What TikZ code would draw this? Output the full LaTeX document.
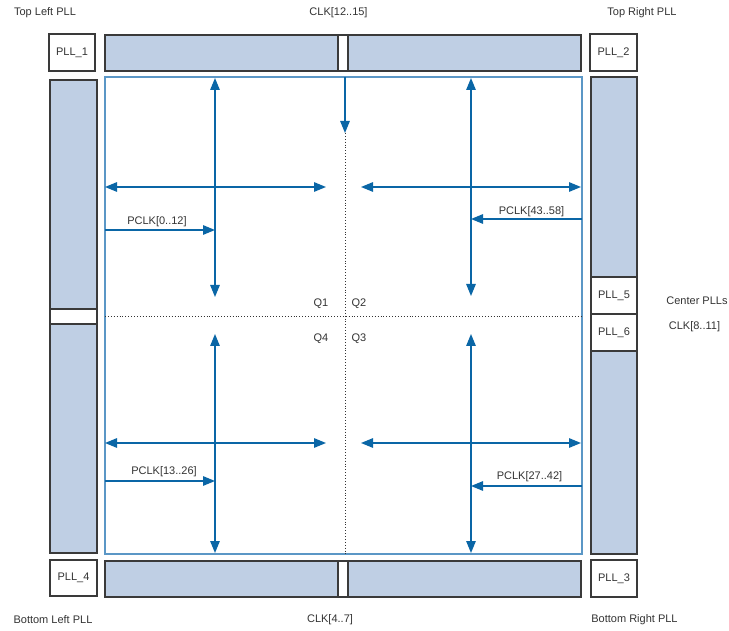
\documentclass[tikz,border=0pt]{standalone}
\usepackage{fontspec}
\setmainfont{Liberation Sans}
\usetikzlibrary{arrows.meta}
\definecolor{barfill}{HTML}{BFCFE4}
\definecolor{frameblue}{HTML}{5B97C6}
\definecolor{arrowblue}{HTML}{0A66A6}
\definecolor{txt}{HTML}{333333}
\definecolor{boxline}{HTML}{3A3A3A}
\begin{document}
\begin{tikzpicture}[x=1pt,y=-1pt,
  lbl/.style={font=\fontsize{11}{12}\selectfont, text=txt, inner sep=0pt},
  rbox/.style={draw=boxline, line width=1.2pt, rectangle, inner sep=0pt, outer sep=0pt},
  pll/.style={rbox, fill=white, font=\fontsize{11}{12}\selectfont, text=txt},
  bar/.style={rbox, fill=barfill},
  gap/.style={rbox, fill=white},
  sig/.style={draw=arrowblue, line width=1.3pt, -{Triangle[length=12pt,width=9.5pt]}},
  dsig/.style={draw=arrowblue, line width=1.3pt, {Triangle[length=12pt,width=9.5pt]}-{Triangle[length=12pt,width=9.5pt]}},
  dots/.style={draw=txt, line width=0.9pt, dotted}]
\useasboundingbox (0,0) rectangle (729,631);

% bars
\node[bar, minimum width=476pt, minimum height=36pt] (topbar) at (343,53) {};
\node[gap, minimum width=10pt, minimum height=36pt] (topgap) at (343,53) {};
\node[bar, minimum width=476pt, minimum height=36pt] (botbar) at (343,579) {};
\node[gap, minimum width=10pt, minimum height=36pt] (botgap) at (343,579) {};
\node[bar, minimum width=47pt, minimum height=473pt] (leftbar) at (73.5,316.5) {};
\node[gap, minimum width=47pt, minimum height=15pt] (leftgap) at (73.5,316.5) {};
\node[bar, minimum width=46pt, minimum height=200pt] (rightup) at (614,177) {};
\node[bar, minimum width=46pt, minimum height=203pt] (rightlow) at (614,452.5) {};

% PLL boxes
\node[pll, minimum width=46pt, minimum height=37pt] (pll1) at (72,52.5) {PLL\_1};
\node[pll, minimum width=47pt, minimum height=37pt] (pll2) at (613.5,52.5) {PLL\_2};
\node[pll, minimum width=46pt, minimum height=37pt] (pll3) at (614,578.5) {PLL\_3};
\node[pll, minimum width=47pt, minimum height=36pt] (pll4) at (73.5,578) {PLL\_4};
\node[pll, minimum width=46pt, minimum height=37pt] (pll5) at (614,295.5) {PLL\_5};
\node[pll, minimum width=46pt, minimum height=37pt] (pll6) at (614,332.5) {PLL\_6};

% frame
\node[draw=frameblue, line width=1.3pt, rectangle, inner sep=0pt, outer sep=0pt,
      minimum width=477pt, minimum height=477pt] (frame) at (343.5,315.5) {};

% dotted quadrant lines
\coordinate (clktop) at (345,77);
\coordinate (clktip) at (345,133);
\coordinate (clkbot) at (345,554);
\coordinate (hl) at (105,316);
\coordinate (hr) at (582,316);
\draw[dots] (clktip) -- (clkbot);
\draw[dots] (hl) -- (hr);
\draw[sig] (clktop) -- (clktip);

% Q1
\coordinate (q1vt) at (215,78); \coordinate (q1vb) at (215,297);
\coordinate (q1hl) at (105,187); \coordinate (q1hr) at (326,187);
\coordinate (p0s) at (105,230); \coordinate (p0e) at (215,230);
\draw[dsig] (q1vt) -- (q1vb);
\draw[dsig] (q1hl) -- (q1hr);
\draw[sig] (p0s) -- (p0e);
% Q2
\coordinate (q2vt) at (471,78); \coordinate (q2vb) at (471,296);
\coordinate (q2hl) at (361,187); \coordinate (q2hr) at (581,187);
\coordinate (p43s) at (582,219); \coordinate (p43e) at (471,219);
\draw[dsig] (q2vt) -- (q2vb);
\draw[dsig] (q2hl) -- (q2hr);
\draw[sig] (p43s) -- (p43e);
% Q4
\coordinate (q4vt) at (215,334); \coordinate (q4vb) at (215,553);
\coordinate (q4hl) at (105,443); \coordinate (q4hr) at (326,443);
\coordinate (p13s) at (105,481); \coordinate (p13e) at (215,481);
\draw[dsig] (q4vt) -- (q4vb);
\draw[dsig] (q4hl) -- (q4hr);
\draw[sig] (p13s) -- (p13e);
% Q3
\coordinate (q3vt) at (471,334); \coordinate (q3vb) at (471,553);
\coordinate (q3hl) at (361,443); \coordinate (q3hr) at (581,443);
\coordinate (p27s) at (582,486); \coordinate (p27e) at (471,486);
\draw[dsig] (q3vt) -- (q3vb);
\draw[dsig] (q3hl) -- (q3hr);
\draw[sig] (p27s) -- (p27e);

% labels
\node[lbl] (tl) at (45,13) {Top Left PLL};
\node[lbl] (clk12) at (338.5,13) {CLK[12..15]};
\node[lbl] (tr) at (642,13) {Top Right PLL};
\node[lbl] (cp) at (697,301) {Center PLLs};
\node[lbl] (clk8) at (694.5,327) {CLK[8..11]};
\node[lbl] (bl) at (53,620) {Bottom Left PLL};
\node[lbl] (clk4) at (330,620) {CLK[4..7]};
\node[lbl] (br) at (634.5,620) {Bottom Right PLL};
\node[lbl] (q1) at (321,304) {Q1};
\node[lbl] (q2) at (359,304) {Q2};
\node[lbl] (q4) at (321,339) {Q4};
\node[lbl] (q3) at (359,339) {Q3};
\node[lbl] (pc0) at (157,222) {PCLK[0..12]};
\node[lbl] (pc43) at (531.5,212) {PCLK[43..58]};
\node[lbl] (pc13) at (164,472) {PCLK[13..26]};
\node[lbl] (pc27) at (529.5,477) {PCLK[27..42]};
\end{tikzpicture}
\end{document}
